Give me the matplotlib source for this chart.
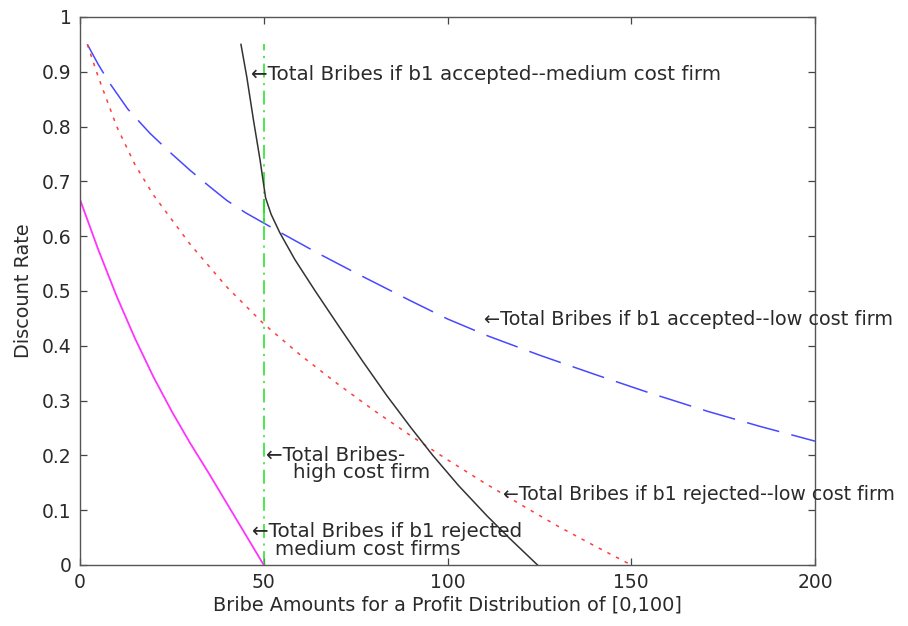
import matplotlib
matplotlib.use("Agg")
import matplotlib.pyplot as plt

plt.rcParams['font.family'] = ['DejaVu Sans']
plt.rcParams['lines.scale_dashes'] = False

# --- data ---
low_acc_x = [2, 5, 8, 13, 19, 25, 30, 35, 40, 45, 50, 55, 65, 75, 90, 100, 111, 125, 140,
             155, 171, 185, 200]
low_acc_y = [0.95, 0.913, 0.88, 0.832, 0.788, 0.75, 0.72, 0.692, 0.665, 0.643, 0.624,
             0.605, 0.568, 0.533, 0.482, 0.449, 0.418, 0.383, 0.348, 0.314, 0.280, 0.253,
             0.226]

low_rej_x = [2, 5, 10, 15, 20, 30, 40, 50, 60, 70, 80, 90, 100, 110, 120, 130, 140, 150]
low_rej_y = [0.95, 0.89, 0.80, 0.73, 0.675, 0.585, 0.507, 0.44, 0.383, 0.331, 0.282, 0.236,
             0.192, 0.150, 0.110, 0.071, 0.035, 0.0]

med_acc_x = [43.8, 45.4, 47.2, 49.0, 50.5, 52, 54.4, 58.5, 64, 70, 77, 83.5, 90, 96, 103,
             110.7, 117, 124.5]
med_acc_y = [0.95, 0.89, 0.812, 0.739, 0.67, 0.64, 0.606, 0.557, 0.50, 0.44, 0.371, 0.309,
             0.251, 0.200, 0.145, 0.090, 0.048, 0.0]

med_rej_x = [0, 5, 10, 15, 20, 25, 30, 35, 40, 45, 50]
med_rej_y = [0.667, 0.575, 0.49, 0.413, 0.343, 0.28, 0.222, 0.168, 0.112, 0.056, 0.0]

high_x = [50, 50]
high_y = [0.0, 0.95]
high_jump_x = [50, 50]
high_jump_y = [0.624, 0.666]

x_ticks = [0, 50, 100, 150, 200]
y_ticks = [0, 0.1, 0.2, 0.3, 0.4, 0.5, 0.6, 0.7, 0.8, 0.9, 1.0]
y_tick_labels = ['0', '0.1', '0.2', '0.3', '0.4', '0.5', '0.6', '0.7', '0.8', '0.9', '1']

FS = 13.5
FA = 14.3
TXT = '#2a2a2a'

fig = plt.figure(figsize=(9.08, 6.26), dpi=100)
ax = fig.add_axes([80 / 908, 61 / 626, 735 / 908, 548 / 626])

ax.plot(low_acc_x, low_acc_y, color='#4848ff', lw=1.1, dashes=(24, 9))
ax.plot(low_rej_x, low_rej_y, color='#ff3c3c', lw=1.1, dashes=(2.5, 4.5))
ax.plot(high_x, high_y, color='#1ee01e', lw=1.1, dashes=(10, 4, 1.5, 4))
ax.plot(high_jump_x, high_jump_y, color='#1ee01e', lw=1.1)
ax.plot(med_acc_x, med_acc_y, color='#333333', lw=1.1)
ax.plot(med_rej_x, med_rej_y, color='#ff33ff', lw=1.3)

ax.set_xlim(0, 200)
ax.set_ylim(0, 1)
ax.set_xticks(x_ticks)
ax.set_xticklabels([str(v) for v in x_ticks])
ax.set_yticks(y_ticks)
ax.set_yticklabels(y_tick_labels)
ax.tick_params(direction='in', length=5, width=0.9, top=True, right=True,
               labelsize=FS, labelcolor=TXT, color='#444444', pad=6)
for s in ax.spines.values():
    s.set_linewidth(1.0)
    s.set_color('#555555')

ax.set_xlabel('Bribe Amounts for a Profit Distribution of [0,100]', fontsize=13.9, color=TXT)
ax.xaxis.set_label_coords(0.5, -0.055)
ax.set_ylabel('Discount Rate', fontsize=13.9, color=TXT)
ax.yaxis.set_label_coords(-0.064, 0.5)

kw = dict(color=TXT, ha='left', va='baseline', clip_on=False)
ax.text(46.5, 0.885, '\u2190Total Bribes if b1 accepted--medium cost firm', fontsize=FA, **kw)
ax.text(110, 0.438, '\u2190Total Bribes if b1 accepted--low cost firm', fontsize=13.9, **kw)
ax.text(115, 0.119, '\u2190Total Bribes if b1 rejected--low cost firm', fontsize=13.6, **kw)
ax.text(50.5, 0.19, '\u2190Total Bribes-', fontsize=FA, **kw)
ax.text(58, 0.159, 'high cost firm', fontsize=FA, **kw)
ax.text(46.7, 0.052, '\u2190Total Bribes if b1 rejected', fontsize=FA, **kw)
ax.text(53, 0.019, 'medium cost firms', fontsize=FA, **kw)

fig.savefig('out.png', dpi=100)
